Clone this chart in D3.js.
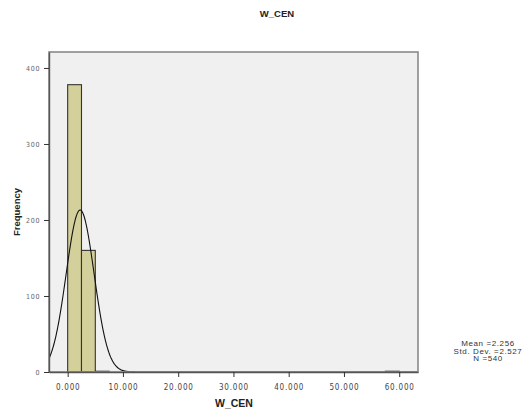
<!DOCTYPE html>
<html><head><meta charset="utf-8">
<script src="https://cdn.jsdelivr.net/npm/d3@7/dist/d3.min.js"></script>
<style>body{margin:0;background:#fff}svg{display:block}</style>
</head><body><svg id="c" width="529" height="416"></svg>
<script>
// Data
const binStarts = [0, 2.5, 5, 57.5];
const binWidth = 2.5;
const frequencies = [378, 160, 1, 1];
const xTicks = [0, 10, 20, 30, 40, 50, 60];
const yTicks = [0, 100, 200, 300, 400];
const statMean = 2.256, statSD = 2.527, statN = 540;
const statLines = ["Mean =2.256", "Std. Dev. =2.527", "N =540"];

const svg = d3.select("#c");
const L = 49, R = 418, T = 52, B = 372;
const x = d3.scaleLinear().domain([-3.38, 63.4]).range([L, R]);
const y = d3.scaleLinear().domain([0, 421]).range([B, T]);

// Title
svg.append("text").attr("x", 277).attr("y", 17).attr("text-anchor", "middle")
  .attr("font-family", "Arial, Liberation Sans, sans-serif").attr("font-weight", "bold")
  .attr("font-size", 9.5).attr("fill", "#222").text("W_CEN");

// Plot background
svg.append("rect").attr("x", L).attr("y", T).attr("width", R - L).attr("height", B - T)
  .attr("fill", "#f0f0f0");

svg.append("clipPath").attr("id", "pc").append("rect")
  .attr("x", L).attr("y", T).attr("width", R - L).attr("height", B - T);

// Bars
svg.append("g").selectAll("rect").data(binStarts).join("rect")
  .attr("x", d => x(d))
  .attr("y", (d, i) => y(frequencies[i]))
  .attr("width", d => x(d + binWidth) - x(d))
  .attr("height", (d, i) => y(0) - y(frequencies[i]))
  .attr("fill", "#d4d09b").attr("stroke", "#333").attr("stroke-width", 1.1);

// Normal curve derived from displayed statistics
const curvePts = d3.range(x.domain()[0], x.domain()[1] + 0.01, 0.1).map(v => {
  const z = (v - statMean) / statSD;
  return [v, statN * binWidth / (statSD * Math.sqrt(2 * Math.PI)) * Math.exp(-0.5 * z * z)];
});
svg.append("path").datum(curvePts).attr("clip-path", "url(#pc)")
  .attr("d", d3.line().x(d => x(d[0])).y(d => y(d[1])).curve(d3.curveBasis))
  .attr("fill", "none").attr("stroke", "#111").attr("stroke-width", 1.1);

// Frame
svg.append("rect").attr("x", L).attr("y", T).attr("width", R - L).attr("height", B - T)
  .attr("fill", "none").attr("stroke", "#8a8a8a").attr("stroke-width", 1.6);

// Axes
const xa = svg.append("g").attr("transform", `translate(0,${B})`)
  .call(d3.axisBottom(x).tickValues(xTicks).tickFormat(d3.format(".3f")).tickSize(5).tickSizeOuter(0));
const ya = svg.append("g").attr("transform", `translate(${L},0)`)
  .call(d3.axisLeft(y).tickValues(yTicks).tickFormat(d3.format("d")).tickSize(5).tickSizeOuter(0));
[xa, ya].forEach(g => {
  g.select(".domain").attr("stroke", "#555").attr("stroke-width", 1.4);
  g.selectAll(".tick line").attr("stroke", "#333");
  g.selectAll("text").attr("font-family", "Liberation Sans Narrow, Arial Narrow, DejaVu Sans Condensed, sans-serif")
    .attr("font-size", 8).attr("letter-spacing", 0.8).attr("fill", "#444");
});
xa.selectAll("text").attr("dy", "1.25em");
ya.selectAll("text").attr("font-size", 7).attr("fill", "#666").attr("dx", "-0.1em");

// Axis titles
svg.append("text").attr("x", 234).attr("y", 407).attr("text-anchor", "middle")
  .attr("font-family", "Arial, Liberation Sans, sans-serif").attr("font-weight", "bold")
  .attr("font-size", 10.5).attr("fill", "#222").text("W_CEN");
svg.append("text").attr("transform", "translate(20,212) rotate(-90)").attr("text-anchor", "middle")
  .attr("font-family", "Arial, Liberation Sans, sans-serif").attr("font-weight", "bold")
  .attr("font-size", 9.5).attr("fill", "#222").text("Frequency");

// Stats box
svg.append("g").selectAll("text").data(statLines).join("text")
  .attr("x", 488).attr("y", (d, i) => 346 + i * 7.5).attr("text-anchor", "middle")
  .attr("font-family", "Liberation Sans Narrow, Arial Narrow, sans-serif")
  .attr("font-size", 8).attr("letter-spacing", 0.6).attr("fill", "#333").text(d => d);
</script></body></html>
